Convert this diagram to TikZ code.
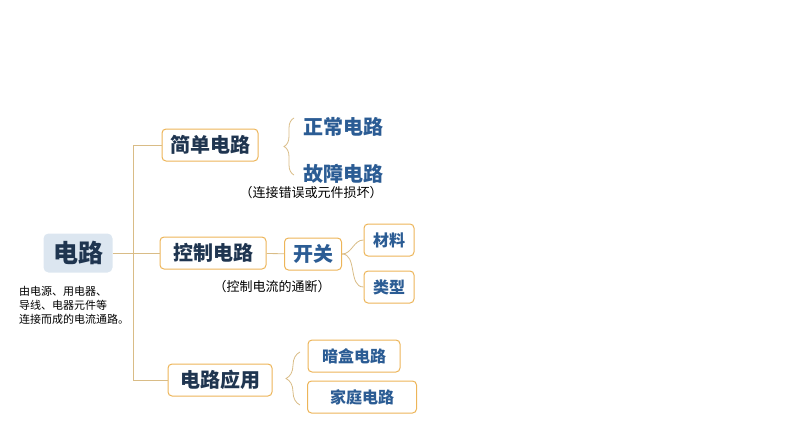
\documentclass[tikz,border=0pt]{standalone}
\usepackage{fontspec}
\setmainfont{Noto Sans CJK SC}
\usetikzlibrary{decorations.pathreplacing}
\definecolor{linie}{HTML}{D9BC86}
\definecolor{rahmen}{HTML}{EDB559}
\definecolor{dunkel}{HTML}{1F3550}
\definecolor{blau}{HTML}{2B5C94}
\definecolor{kopf}{HTML}{DCE6F0}
\tikzset{
  kasten/.style={draw=rahmen, line width=1pt, rounded corners=4pt, fill=white,
    inner sep=0pt, minimum height=32pt, text=dunkel,
    font=\bfseries\fontsize{20}{22}\selectfont},
  klein/.style={kasten, text=blau, font=\bfseries\fontsize{16}{18}\selectfont},
  blatt/.style={text=blau, inner sep=0pt, font=\bfseries\fontsize{20}{22}\selectfont},
  notiz/.style={inner sep=0pt, font=\fontsize{13}{15}\selectfont},
  ast/.style={draw=linie, line width=0.8pt},
  klammer/.style={ast, decorate, decoration={brace, amplitude=#1}},
}
\begin{document}
\begin{tikzpicture}[x=1pt,y=-1pt]
	\useasboundingbox (0,0) rectangle (794,447);
	% Wurzel
	\node[fill=kopf, rounded corners=5pt, minimum width=69pt, minimum height=39pt,
	  text=dunkel, font=\bfseries\fontsize{25}{27}\selectfont] (root) at (78,253) {电路};
	\node[anchor=north west, align=left, inner sep=0pt,
	  font=\fontsize{11}{14}\selectfont] (erkl) at (19,286) {由电源、用电器、\\导线、电器元件等\\连接而成的电流通路。};
	% Aeste
	\node[kasten, minimum width=96pt] (einfach) at (210,145) {简单电路};
	\node[kasten, minimum width=106pt] (steuer) at (213,253) {控制电路};
	\node[kasten, minimum width=104pt] (anw) at (220,380) {电路应用};
	\coordinate (oben) at (133,145);
	\coordinate (unten) at (133,380);
	\draw[ast] (root) -- (steuer);
	\draw[ast] (oben) -- (unten);
	\draw[ast] (oben) -- (einfach);
	\draw[ast] (unten) -- (anw);
	% einfacher Stromkreis
	\node[blatt] (normal) at (343,127) {正常电路};
	\node[blatt] (fehler) at (343,174) {故障电路};
	\node[notiz] (fehlertxt) at (311,193) {（连接错误或元件损坏）};
	\coordinate (k1a) at (294,175);
	\coordinate (k1b) at (294,118);
	\draw[klammer=10pt] (k1a) -- (k1b);
	% Steuerung
	\node[kasten, text=blau, minimum width=57pt] (schalter) at (313,254) {开关};
	\node[klein, minimum width=50pt] (material) at (389,240) {材料};
	\node[klein, minimum width=50pt] (typ) at (389,287) {类型};
	\node[notiz] (steuertxt) at (272,287) {（控制电流的通断）};
	\draw[ast] (steuer) -- (schalter);
	\draw[ast] (schalter.east) to[out=0,in=180] (material.west);
	\draw[ast] (schalter.east) to[out=0,in=180] (typ.west);
	% Anwendung
	\node[klein, minimum width=92pt] (dose) at (354,356) {暗盒电路};
	\node[klein, minimum width=109pt] (haus) at (362,397) {家庭电路};
	\coordinate (k2a) at (300,405);
	\coordinate (k2b) at (300,352);
	\draw[klammer=14pt] (k2a) -- (k2b);
\end{tikzpicture}
\end{document}
